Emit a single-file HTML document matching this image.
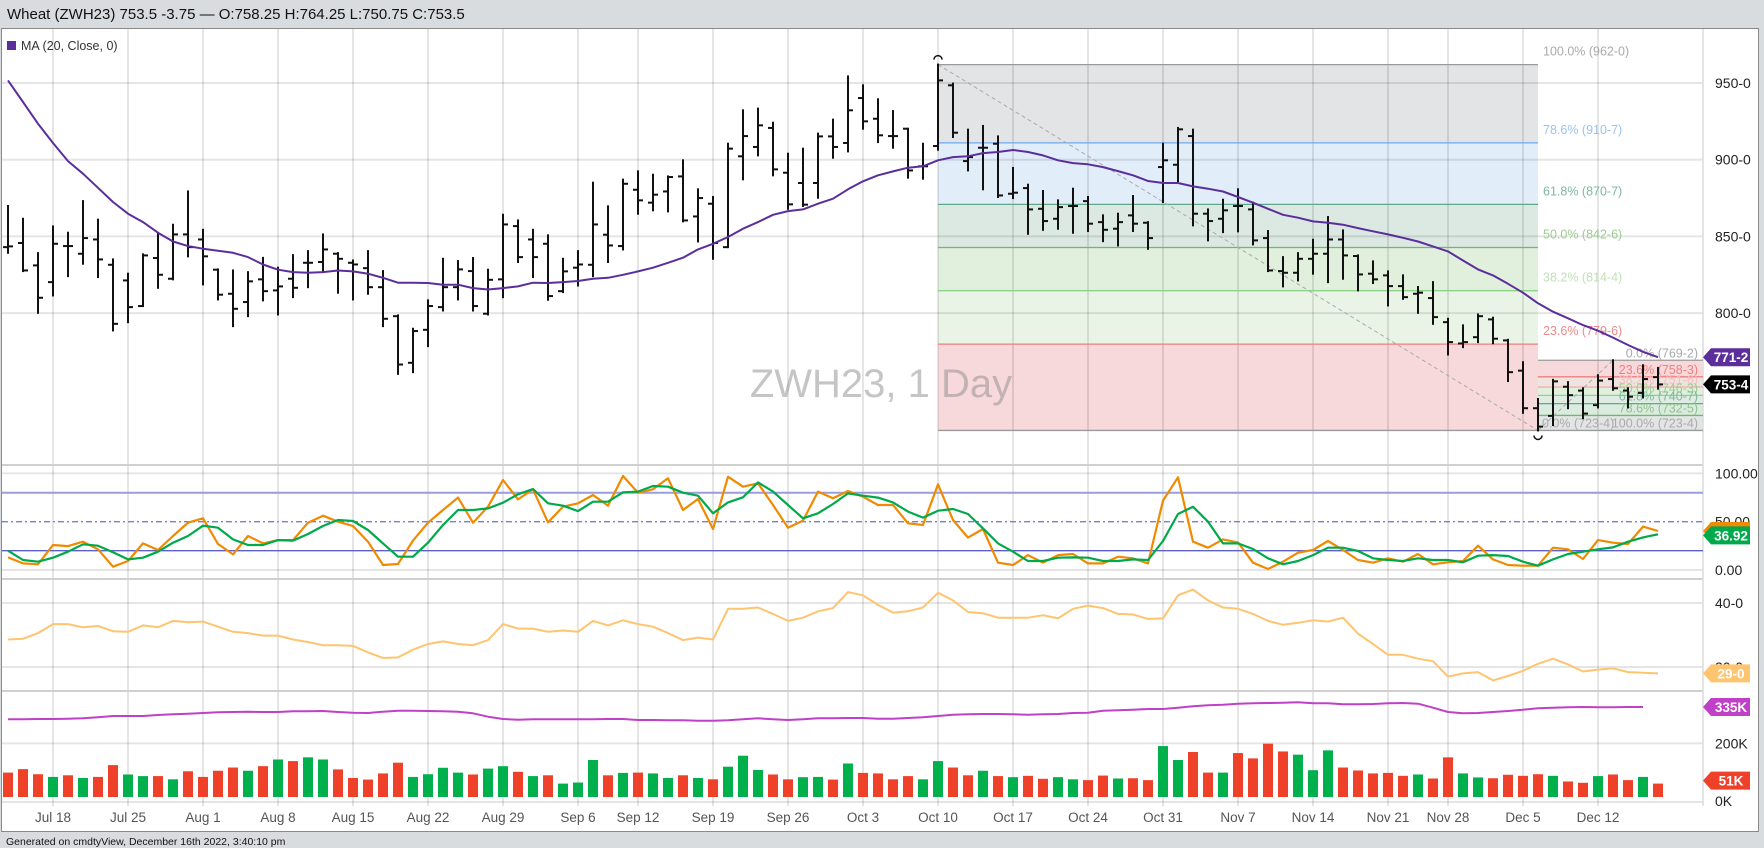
<!DOCTYPE html>
<html><head><meta charset="utf-8"><title>ZWH23 Wheat chart</title>
<style>
html,body{margin:0;padding:0;background:#d9dcdf;}
svg{display:block;font-family:"Liberation Sans",sans-serif;}
</style></head>
<body>
<svg id="chart" width="1764" height="848" viewBox="0 0 1764 848" xmlns="http://www.w3.org/2000/svg">
<rect x="0" y="0" width="1764" height="848" fill="#d9dcdf"/>
<text x="7" y="19" font-size="15" fill="#111">Wheat (ZWH23) 753.5 -3.75 — O:758.25 H:764.25 L:750.75 C:753.5</text>
<rect x="1.5" y="28.5" width="1757" height="803" fill="#fff" stroke="#8a8a8a"/>
<g id="layer-fill"></g>
<g id="layer-grid"></g>
<text x="881" y="397" font-size="40" fill="rgba(140,140,140,0.5)" text-anchor="middle">ZWH23, 1 Day</text>
<g id="layer-fibline"></g>
<g id="layer-series"></g>
<g id="layer-axis"></g>
<rect x="7" y="41" width="9" height="9" fill="#5b2e9c"/>
<text x="21" y="50" font-size="12.5" fill="#333">MA (20, Close, 0)</text>
<text x="6" y="845" font-size="10.5" fill="#111">Generated on cmdtyView, December 16th 2022, 3:40:10 pm</text>
</svg>
<script>
// ---- data (index 0 = Jul 13, daily trading sessions through Dec 16) ----
const opens = [843,845.7,831.1,820.2,843.7,838.7,848,831.5,821.3,804.6,835.9,822.4,851.3,848,828.3,812.6,807.2,822,814.8,822.4,832.8,833.3,838.7,832.8,829.3,816.9,798,767.6,789.1,803.9,816.9,827.4,799.6,822,856.7,848,845.2,814.3,829.6,831.5,851.1,843.7,880.4,872,879.3,889.1,863,871.3,843,902.2,908.3,920.7,891.5,884.8,884.8,915.2,910.9,940.2,926.7,915.4,920.2,895.7,908.9,948.5,899.1,907.8,910.4,877.8,881.5,868,861.5,869.8,873,859.3,855,863.7,858.9,895.2,896.7,915.4,864.8,861.5,869.8,867.6,848.9,827.4,826.3,835.4,838.7,848,837.2,825.7,824.6,817.6,812.6,809.8,794.1,780.2,784.3,795.9,782.2,762.5,738,733,752,749.5,740,757,749.5,748,758.25];
const highs = [869.8,861.5,839.1,856.5,852.4,873,860.9,835,825.7,838.3,851.7,857.6,879.3,854.3,828.5,827.8,826.7,836,829.6,837.8,840.4,851.3,839.1,834.3,840.4,827.4,798.5,789.8,808.3,835.4,833.9,835.9,828.3,864.1,860.4,854.3,850.7,835.4,840.4,885,869.6,887,892.4,890.2,889.1,899.6,880.7,875.7,910.4,932.2,933.3,924.1,903.9,907.2,917,926.1,954.3,948.5,939.4,931.7,920.2,910.4,962,949.6,919.6,922,915.2,894.6,883.7,879.6,873.5,881.1,875.7,863.7,864.8,876.3,859.3,910.4,920.7,919.6,867.6,873.9,880.7,872,853.5,836.5,839.1,847.8,862.6,853.9,837.6,833.7,827.2,824.6,817,820.2,796.3,792,799.1,797,782.6,768,744,756.5,755,751,759.5,769.25,751,766,764.25];
const lows = [839.3,827.4,800.2,811.5,824.1,832.2,823.5,788.7,794.1,804.6,816.5,822,837,818.7,808.9,791.5,798,808.3,799.1,810.4,816.9,827.8,813.3,808.9,812.6,791.5,760.4,761.5,778.5,801.7,808.9,801.7,799.1,810.4,833.3,823.5,808.7,813.7,818,824.1,833.3,841.5,864.8,867,866.3,859.8,846.7,835.4,843,887.2,902.8,889.8,868,869.8,875.2,901.3,905.4,920.2,911.5,907.8,888.3,887.6,906.5,914.8,893,880.7,875.7,875,851.7,854.3,855,852.4,853.5,846.9,844.1,853.5,841.9,872.4,886.1,857.2,847.4,852.8,853.3,844.8,827.4,817.4,821.3,825.7,820.2,822.4,814.8,819.6,805,809.3,800.2,793,773,777.8,781.1,780.4,755.7,735,723.5,727,738,731.5,738.5,750,738.5,745,750.75];
const closes = [843.5,827.8,810,845.2,843.7,848.9,835,793,803.9,837.6,825,851.3,843,837,812,802.8,820.7,814.3,817.4,816.5,832.8,841.5,835.4,831.7,816.9,796.3,766.5,788.3,804.6,816.9,828.5,804.6,821.7,857.8,836.5,836.5,811.1,827.2,831.7,857.8,844.1,884.3,873.5,877.2,888.7,860.4,875,845.7,907.2,915.4,922.4,893.7,870.9,870.7,915.2,908.3,932.2,925,915.9,915.4,893,895.7,951.7,917.6,901.7,907.8,876.7,878.5,867.6,860,869.1,869.8,858.3,854.3,859.3,858.3,848.9,899.6,919.8,864.8,860,867,869.8,847.4,827.8,826.3,835.4,838.7,848,837.6,825.2,822,817.6,810.4,813.3,797.4,781.1,781.1,798,783.3,761.5,738,726,755.5,746.5,734.5,756,751,745.5,757,753.5];
const maValues = [951.7,937.6,923.5,910.9,899.1,890.9,881.7,872.4,864.8,859.3,852.4,846.7,843.7,842,840.7,839.3,836.5,831.7,828.3,826.7,826.3,826.7,827.8,827.2,825.7,823,819.8,819.8,819.6,818.5,818.5,816.3,815.4,816.3,817.4,819.8,819.6,820.2,820.9,822.4,823,825,827.2,829.6,832.8,836.1,841.5,845.2,849.6,855,859.3,864.1,866.5,867.6,871.3,874.6,880.7,885.9,889.8,892.4,894.8,895.7,899.6,901.7,902.2,904.3,905,906.3,905,902.8,899.6,897.8,897,895.2,892.6,889.8,886.1,884.8,884.8,882.6,881.1,879.3,875.7,872,868,864.1,862.2,859.8,858.9,857.6,855.4,853.3,851.3,849.1,846.7,843.5,840.2,834.3,828.5,824.6,819.1,813.3,806.4,800.9,796.6,792.2,788.5,784,779.2,774.8,771.25];
const stochK = [13.1,6.9,5.9,25.9,24.8,29.3,21.4,3.5,9.3,27.6,20.7,35.2,49,53.5,26.9,16.2,35.2,27.6,31,31,49,56.2,50,45.5,29.3,5.2,6.2,30.4,49,62.1,74.9,49,65.5,93.1,73.1,83.5,49.3,65.5,69,77.6,66.6,97.3,80,83.5,94.9,62.1,73.5,42.4,96.6,86.2,89.7,67.3,43.8,51.1,81.1,74.2,81.8,75.9,67.3,67.3,48.3,46.6,88.6,51.8,33.5,42.4,7.6,5.2,15.5,7.6,15.5,16.6,6.9,6.9,13.8,12.1,6.9,71.8,95.9,29.3,23.1,31.7,28.6,7.6,1.1,8.6,17.9,20.7,30,20.7,10.4,7.6,12.1,8.6,16.6,5.9,8,9.3,25.2,11,5.2,4.5,4.5,23.1,21.4,11.4,31,28.3,26.9,44.9,40.4];
const stochD = [20,10.4,8.6,12.8,19,26.6,25.2,18.3,11,12.8,19,28.3,35.2,45.9,43.8,31.7,25.9,25.9,31,30.4,37.3,45.5,51.8,50.7,41.4,27.6,13.8,13.8,28.3,46.6,62.1,62.1,63.8,69.7,78.3,83.8,69,66.6,61,70.7,70.7,80.4,81.1,86.9,86.2,80,76.9,58.7,70,75.2,90.7,81.1,67.3,53.5,58.7,68.3,79.3,76.9,74.9,70,60.4,54.2,61.4,63.1,58,43.1,27.6,19,9.3,9.3,12.8,13.1,12.8,9.3,9.3,11,10.4,30,58,65.5,50,27.6,27.6,21.8,12.1,5.9,9.3,15.5,23.1,23.1,19.7,12.1,10.4,9.3,12.1,10.4,10.4,8,14.8,15.5,14.5,8.6,4.5,11,16.6,19,21.4,23.4,29.3,33.8,36.92];
const volatility = [34.3,34.4,35.3,36.7,36.7,36.2,36.4,35.6,35.5,36.5,36.2,37.2,37,37.1,36.3,35.5,35.3,34.9,34.9,34.3,33.9,33.4,33.4,33.3,32.3,31.4,31.5,32.7,33.6,34,33.6,33.4,34.2,36.7,36,36,35.5,35.7,35.5,37.2,36.5,37.3,36.7,36.3,35.3,34.2,34.6,34.3,39.1,39.1,39.3,38.3,37.2,37.7,38.7,39.2,41.7,41.2,39.7,38.5,38.7,39.3,41.6,40.4,38.6,38.4,37.7,37.7,37.7,38.1,37.6,39.1,39.6,39.2,38.3,38.2,37.5,37.6,41.2,42.1,40.4,39.3,39.1,38.3,37.2,36.6,36.9,37.3,37.1,37.7,35.2,33.6,31.9,31.9,31.3,30.9,28.5,29,29.2,27.9,28.6,29.4,30.5,31.3,30.4,29.3,29.6,29.8,29.2,29.1,29];
const openInterest = [304.2,304.2,305,305,305.8,306.7,309.2,312.5,312.5,312.5,315,316.7,318.3,320,321.7,322.5,323.3,322.5,322.5,324.2,324.2,325,322.5,320.8,320,323.3,325.8,325.8,325,324.2,323.3,319.2,310.8,305,303.3,304.2,304.2,304.2,304.2,304.2,305,305,302.5,302.5,301.7,301.7,300.8,300.8,301.7,304.2,306.7,304.2,302.5,304.2,306.7,306.7,307.5,307.5,305.8,305.8,307.5,309.2,312.5,315.8,316.7,317.5,317.5,316.7,315.8,316.7,317.5,320,320.8,325.8,326.7,328.3,330,330,333.3,336.7,339.2,340.8,343.3,344.2,345,345.8,346.7,344.2,344.2,341.7,341.7,342.5,344.2,345,343.3,333.3,322.5,319.2,320,322.5,325,328.3,331.7,333.3,334.2,335,334.2,334.2,335,335];
const volumes = [91,104,85,75,81,71,75,119,84,78,78,66,96,75,98,110,98,115,140,134,148,140,103,71,65,88,128,75,85,109,91,84,106,115,94,78,81,50,54,138,81,90,91,88,71,81,71,66,113,154,101,84,66,74,75,65,125,90,88,66,78,66,134,110,81,98,78,74,79,68,74,66,63,80,69,70,63,190,138,168,91,91,164,144,199,170,158,100,174,110,99,88,90,79,84,69,148,88,73,70,83,79,85,79,58,53,78,84,63,75,50];
const volDir = ['d','d','d','u','d','u','d','d','u','u',
 'd','u','d','d','d','d','u','d','u','d',
 'u','u','d','d','d','d','d','u','u','u',
 'u','d','u','u','d','u','d','u','u','u',
 'd','u','d','u','u','d','u','d','u','u',
 'u','d','d','u','u','d','u','d','d','d',
 'd','u','u','d','d','u','d','u','d','d',
 'u','u','d','d','u','d','d','u','u','d',
 'd','u','d','d','d','d','u','u','u','d',
 'd','d','d','d','u','d','d','u','u','d',
 'd','d','d','u','d','d','u','d','d','u','d'];
const weekLabels = ['Jul 18','Jul 25','Aug 1','Aug 8','Aug 15','Aug 22','Aug 29','Sep 6','Sep 12','Sep 19','Sep 26','Oct 3','Oct 10','Oct 17','Oct 24','Oct 31','Nov 7','Nov 14','Nov 21','Nov 28','Dec 5','Dec 12'];
const weekIndex = [3,8,13,18,23,28,33,38,42,47,52,57,62,67,72,77,82,87,92,96,101,106];
const priceTicks = [950,900,850,800];
const priceTickLabels = ['950-0','900-0','850-0','800-0'];
const fib1High = 962, fib1Low = 723.5, fib1StartIdx = 62, fib1EndIdx = 102;
const fib1Levels = [1,0.786,0.618,0.5,0.382,0.236,0];
const fib1Labels = ['100.0% (962-0)','78.6% (910-7)','61.8% (870-7)','50.0% (842-6)','38.2% (814-4)','23.6% (779-6)',''];
const fib2High = 769.25, fib2Low = 723.5, fib2StartIdx = 102;
const fib2Levels = [0,0.236,0.382,0.5,0.618,0.786,1];
const fib2Labels = ['0.0% (769-2)','23.6% (758-3)','38.2% (751-6)','50.0% (746-3)','61.8% (740-7)','78.6% (732-5)','100.0% (723-4)'];
const lastMA = '771-2', lastPrice = '753-4', lastD = '36.92', lastVol = '29-0', lastOI = '335K', lastVolume = '51K';

// ---- scales ----
const PLOT_R = 1703;
function xAt(i){ return 8 + 15*i; }
function yPrice(p){ return 83 + (950-p)*1.534; }
function yStoch(v){ return 550.7 - (v-20)*0.9667; }
function yVolat(v){ return 603 + (40-v)*6.4; }
function yOI(v){ return 707 - (v-335)*0.4; }
function yVolume(v){ return 797 - v*0.268; }

const NS = 'http://www.w3.org/2000/svg';
function mk(tag, attrs, parent){
  const el = document.createElementNS(NS, tag);
  for (const k in attrs) el.setAttribute(k, attrs[k]);
  parent.appendChild(el);
  return el;
}
const gFill = document.getElementById('layer-fill');
const gGrid = document.getElementById('layer-grid');
const gFib = document.getElementById('layer-fibline');
const gSer = document.getElementById('layer-series');
const gAx = document.getElementById('layer-axis');

// fib fills
const fib1Fills = ['#e3e4e6','#e2edfa','#dbe9e2','#e1efdd','#e9f4e6','#f8d9db'];
const fib1Lines = ['#9a9a9a','#6fa8ee','#5fa88a','#6dbb6a','#8fd28a','#ee7f7f','#9a9a9a'];
const fib1LabelCol = ['#aaaaaa','#9cc3ee','#7fb89e','#9ccc90','#c2dfb8','#ef8a8a',''];
function fib1P(l){ return fib1Low + (fib1High-fib1Low)*l; }
for (let k=0;k<fib1Levels.length-1;k++){
  const y1 = yPrice(fib1P(fib1Levels[k])), y2 = yPrice(fib1P(fib1Levels[k+1]));
  const r = mk('rect',{x:xAt(fib1StartIdx),y:y1,width:xAt(fib1EndIdx)-xAt(fib1StartIdx),height:y2-y1,fill:fib1Fills[k]},gFill);
  
  
}
const fib2Fills = ['#f8d9db','#efe3df','#e1efdd','#dfece3','#dcebe0','#e3e4e6'];
const fib2Lines = ['#9a9a9a','#ee7f7f','#f2b0b0','#8fd28a','#5fa88a','#6dbb6a','#9a9a9a'];
const fib2LabelCol = ['#aaaaaa','#ef7f7f','#f2c0c0','#9ccc90','#7fb89e','#8cc48a','#aaaaaa'];
function fib2P(l){ return fib2High - (fib2High-fib2Low)*l; }
for (let k=0;k<fib2Levels.length-1;k++){
  const y1 = yPrice(fib2P(fib2Levels[k])), y2 = yPrice(fib2P(fib2Levels[k+1]));
  const r = mk('rect',{x:xAt(fib2StartIdx),y:y1,width:PLOT_R-xAt(fib2StartIdx),height:y2-y1,fill:fib2Fills[k]},gFill);
  
  
}

// gridlines
const gridCol = 'rgba(0,0,0,0.1)';
weekIndex.forEach((wi,k)=>{
  const l = mk('line',{x1:xAt(wi),x2:xAt(wi),y1:29,y2:806,stroke:gridCol,'stroke-width':2},gGrid);
  
  
  const t = mk('text',{x:xAt(wi),y:822,'font-size':13.5,fill:'#555','text-anchor':'middle'},gAx);
  t.textContent = weekLabels[k];
  
  
});
priceTicks.forEach((p,k)=>{
  const l = mk('line',{x1:2,x2:PLOT_R,y1:yPrice(p),y2:yPrice(p),stroke:gridCol,'stroke-width':2},gGrid);
  
  
  const t = mk('text',{x:1715,y:yPrice(p)+5,'font-size':14,fill:'#222'},gAx);
  t.textContent = priceTickLabels[k];
  
  
});
const hGrids = [yStoch(100), yStoch(0), yVolat(40), yVolat(30), yVolume(200), 802];
hGrids.forEach(y=>{
  const l = mk('line',{x1:2,x2:PLOT_R,y1:y,y2:y,stroke:gridCol,'stroke-width':2},gGrid);
  
  
});
[465, 579, 691].forEach(y=>{
  const l = mk('line',{x1:2,x2:PLOT_R,y1:y,y2:y,stroke:'#d0d0d0','stroke-width':2},gGrid);
  
  
});
const axLine = mk('line',{x1:PLOT_R,x2:PLOT_R,y1:29,y2:806,stroke:'#dcdcdc','stroke-width':1.5},gGrid);



// fib lines + labels
for (let k=0;k<fib1Levels.length;k++){
  const y = yPrice(fib1P(fib1Levels[k]));
  const l = mk('line',{x1:xAt(fib1StartIdx),x2:xAt(fib1EndIdx),y1:y,y2:y,stroke:fib1Lines[k],'stroke-width':1.3},gFib);
  
  
  if (fib1Labels[k]){
    const t = mk('text',{x:xAt(fib1EndIdx)+5,y:y-9,'font-size':12.5,fill:fib1LabelCol[k]},gFib);
    t.textContent = fib1Labels[k];
    
    
  }
}
for (let k=0;k<fib2Levels.length;k++){
  const y = yPrice(fib2P(fib2Levels[k]));
  const l = mk('line',{x1:xAt(fib2StartIdx),x2:PLOT_R,y1:y,y2:y,stroke:fib2Lines[k],'stroke-width':1.3},gFib);
  
  
  const t = mk('text',{x:PLOT_R-5,y:y-3,'font-size':12.5,fill:fib2LabelCol[k],'text-anchor':'end'},gFib);
  t.textContent = fib2Labels[k];
  
  
}
const fl0 = mk('text',{x:xAt(fib2StartIdx)+4,y:yPrice(fib1Low)-3,'font-size':12.5,fill:'#aaaaaa'},gFib);
fl0.textContent = '0.0% (723-4)';


const d1 = mk('line',{x1:xAt(fib1StartIdx),y1:yPrice(fib1High),x2:xAt(fib1EndIdx),y2:yPrice(fib1Low),stroke:'#aaa','stroke-width':1,'stroke-dasharray':'4 3'},gFib);


const d2 = mk('line',{x1:xAt(fib2StartIdx),y1:yPrice(fib2Low),x2:xAt(107),y2:yPrice(fib2High),stroke:'#aaa','stroke-width':1,'stroke-dasharray':'4 3'},gFib);


const a1 = mk('path',{d:`M${xAt(fib1StartIdx)-4},${yPrice(fib1High)-5} a4,4 0 0 1 8,0`,fill:'none',stroke:'#111','stroke-width':1.5},gFib);


const a2 = mk('path',{d:`M${xAt(fib2StartIdx)-4},${yPrice(fib1Low)+5} a4,4 0 0 0 8,0`,fill:'none',stroke:'#111','stroke-width':1.5},gFib);



// OHLC bars
for (let i=0;i<opens.length;i++){
  const x = xAt(i);
  const g = mk('g',{stroke:'#111','stroke-width':2},gSer);
  
  
  mk('line',{x1:x,x2:x,y1:yPrice(highs[i])-1,y2:yPrice(lows[i])+1},g);
  mk('line',{x1:x-5,x2:x,y1:yPrice(opens[i]),y2:yPrice(opens[i])},g);
  mk('line',{x1:x,x2:x+5,y1:yPrice(closes[i]),y2:yPrice(closes[i])},g);
}
function poly(vals, yf, color, w, name){
  const pts = vals.map((v,i)=>xAt(i)+','+yf(v).toFixed(1)).join(' ');
  const p = mk('polyline',{points:pts,fill:'none',stroke:color,'stroke-width':w,'stroke-linejoin':'round'},gSer);
  return p;
}
const maLine = poly(maValues, yPrice, '#5b2e9c', 2, 'ma');



// stochastic reference lines
const r80 = mk('line',{x1:2,x2:PLOT_R,y1:yStoch(80),y2:yStoch(80),stroke:'#9a9edc','stroke-width':2},gSer);


const r20 = mk('line',{x1:2,x2:PLOT_R,y1:yStoch(20),y2:yStoch(20),stroke:'#5c60c4','stroke-width':1.3},gSer);


const r50 = mk('line',{x1:2,x2:PLOT_R,y1:yStoch(50),y2:yStoch(50),stroke:'#7b7fd0','stroke-width':1.3,'stroke-dasharray':'6 3 2 3'},gSer);


const kLine = poly(stochK, yStoch, '#f08a00', 2.2);


const dLine = poly(stochD, yStoch, '#00a94a', 2.2);


const vLine = poly(volatility, yVolat, '#ffc46f', 2);


const oiLine = poly(openInterest, yOI, '#c040c8', 2);



// volume bars
for (let i=0;i<volumes.length;i++){
  const y = yVolume(volumes[i]);
  const b = mk('rect',{x:xAt(i)-5,y:y,width:10,height:797-y,fill:volDir[i]==='u'?'#00b04c':'#ef4129'},gSer);
  
  
}

// static axis labels for lower panels
const extraLabels = [['100.00',yStoch(100)],['50.00',yStoch(50)],['0.00',yStoch(0)],['40-0',yVolat(40)],['30-0',yVolat(30)],['200K',yVolume(200)],['0K',801]];
extraLabels.forEach(e=>{
  const t = mk('text',{x:1715,y:e[1]+5,'font-size':14,fill:'#222'},gAx);
  t.textContent = e[0];
  
  
});

// value tags
function tag(yc, color, text, textColor){
  const g = mk('g',{},gAx);
  mk('polygon',{points:`${PLOT_R},${yc} ${PLOT_R+8},${yc-9} ${PLOT_R+47},${yc-9} ${PLOT_R+47},${yc+9} ${PLOT_R+8},${yc+9}`,fill:color},g);
  const t = mk('text',{x:PLOT_R+28,y:yc+5,'font-size':13.5,'font-weight':'bold',fill:textColor,'text-anchor':'middle'},g);
  t.textContent = text;
  return g;
}
const tOr = tag(yStoch(40.4), '#f08a00', '', '#fff');


const t1 = tag(yPrice(maValues[maValues.length-1]), '#5b2e9c', lastMA, '#fff');


const t2 = tag(yPrice(closes[closes.length-1]), '#000', lastPrice, '#fff');


const t3 = tag(yStoch(stochD[stochD.length-1])+1, '#00a94a', lastD, '#fff');


const t4 = tag(yVolat(volatility[volatility.length-1]), '#ffc46f', lastVol, '#fff');


const t5 = tag(yOI(openInterest[openInterest.length-1]), '#c040c8', lastOI, '#fff');


const t6 = tag(yVolume(volumes[volumes.length-1])-3, '#ef4129', lastVolume, '#fff');


</script>
</body></html>
